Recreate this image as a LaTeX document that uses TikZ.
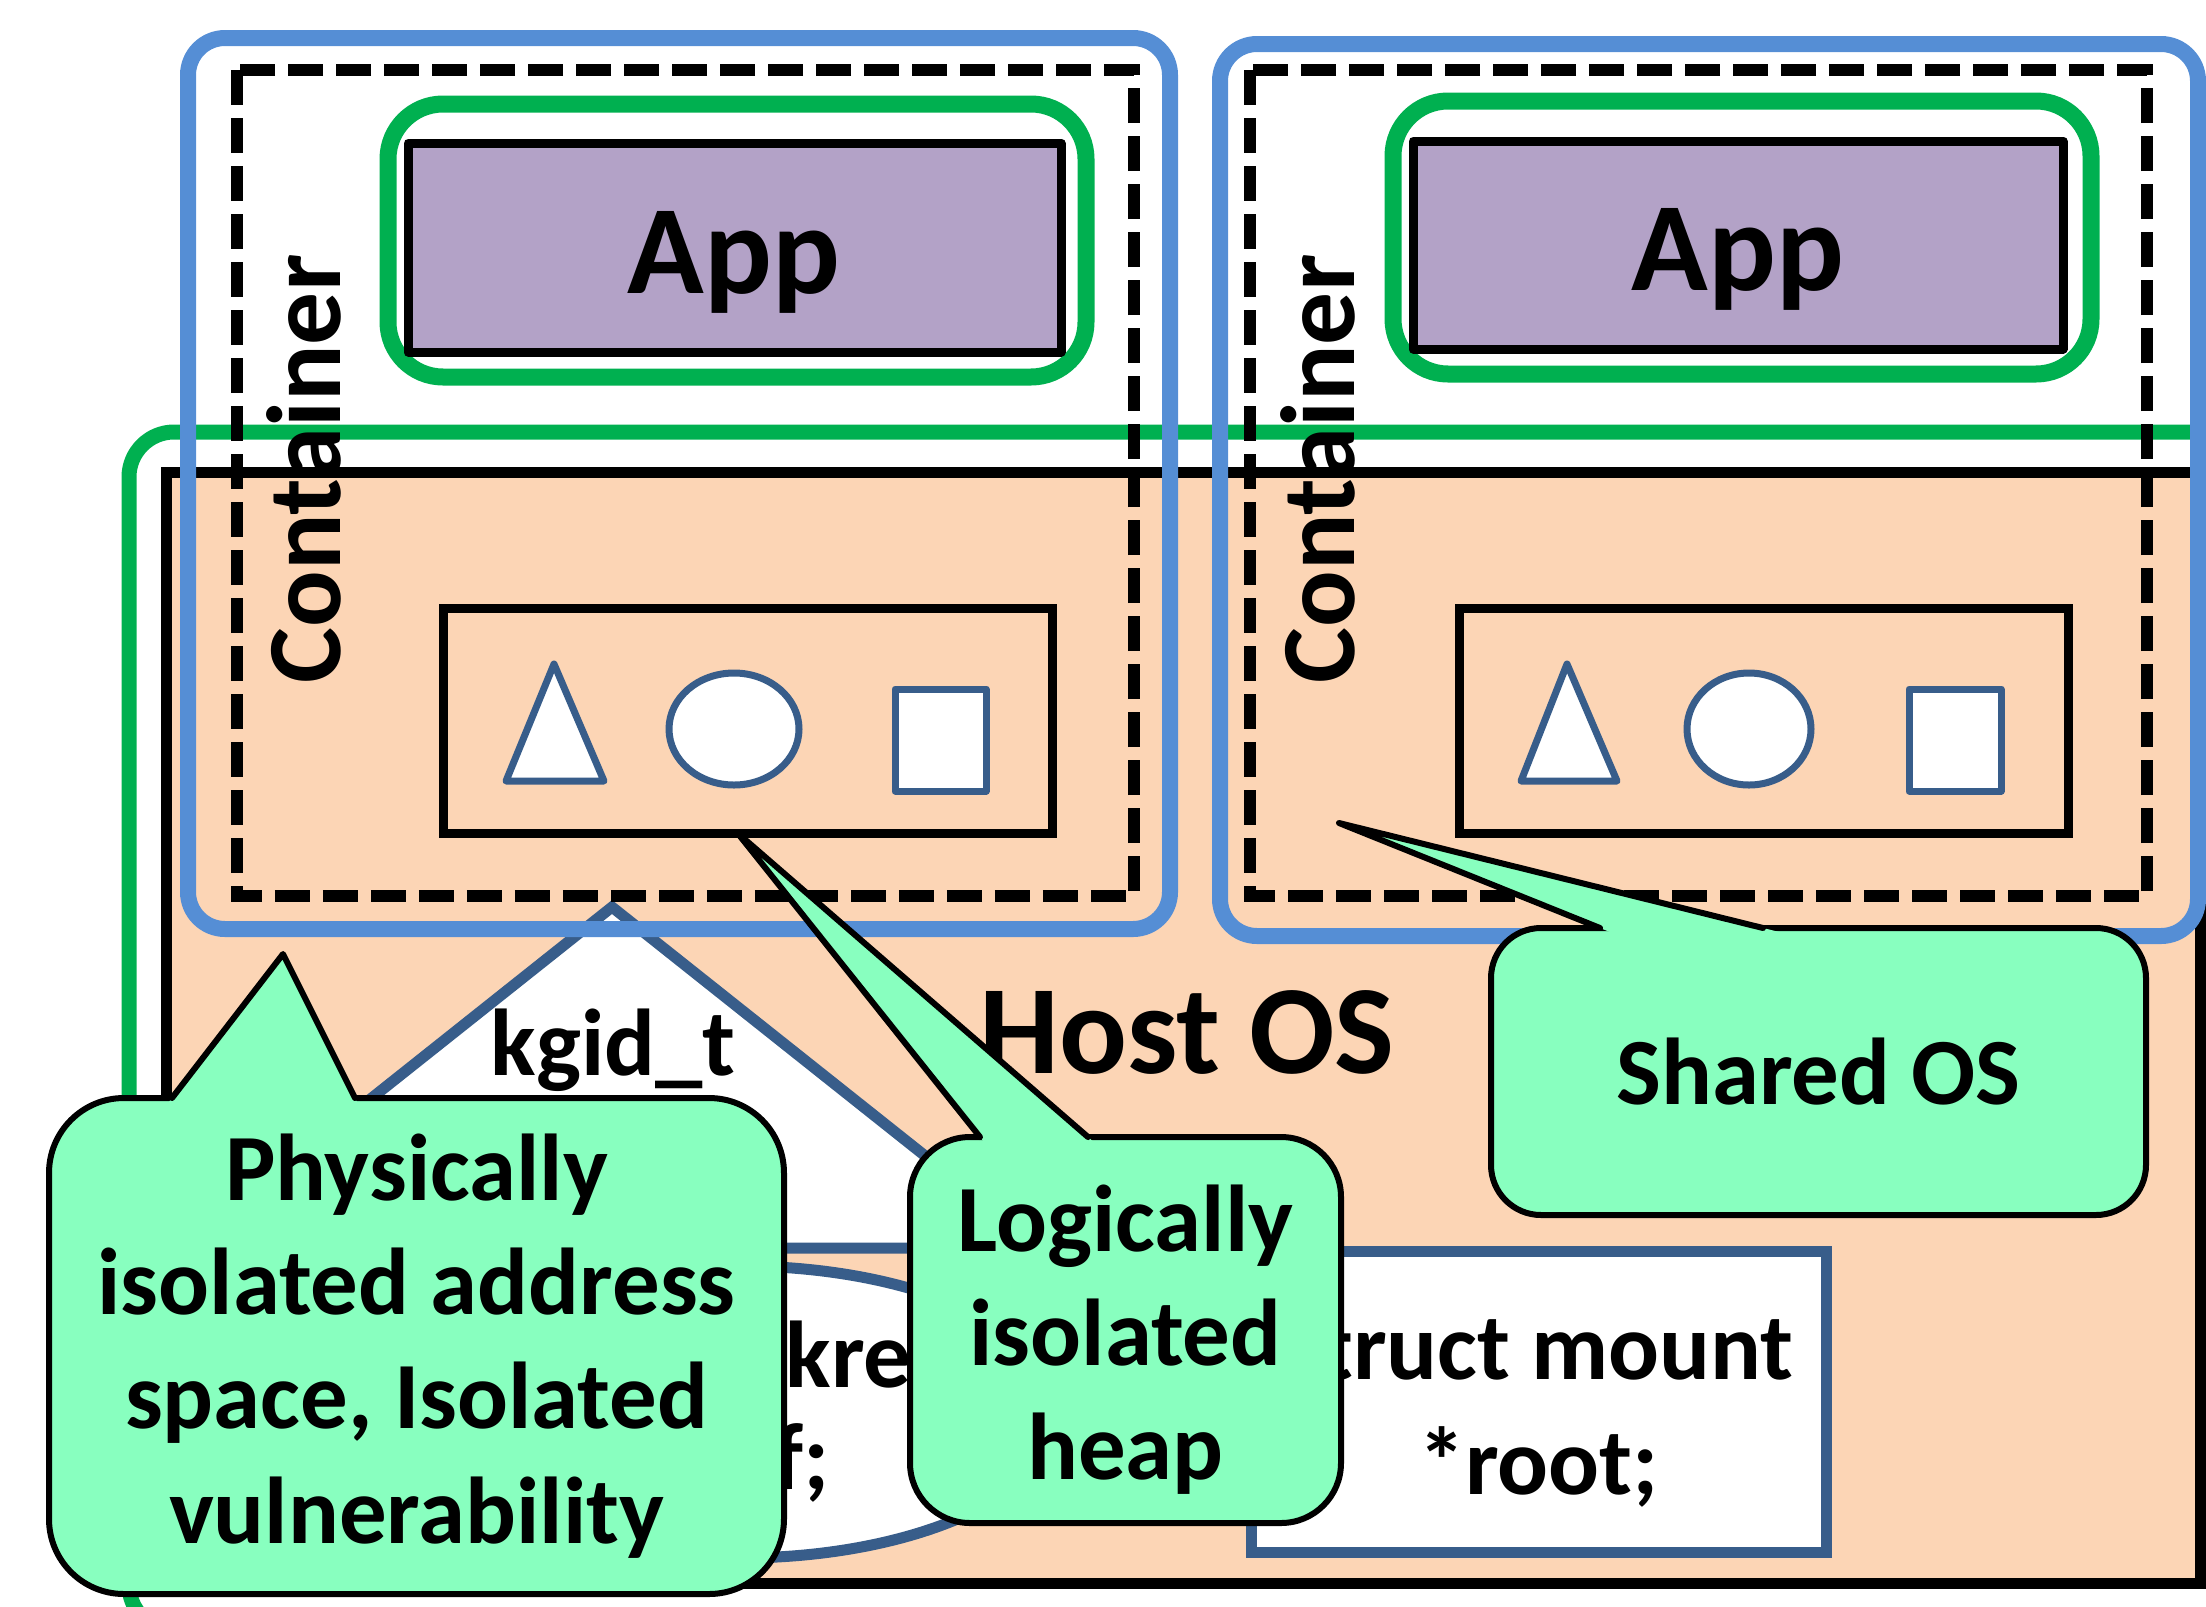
\documentclass[tikz,border=0pt]{standalone}
\usepackage{fontspec}
\setmainfont{Carlito}
\usetikzlibrary{shapes.geometric,calc}

\definecolor{hostgreen}{HTML}{00B050}
\definecolor{peach}{HTML}{FCD5B5}
\definecolor{appviolet}{HTML}{B3A2C7}
\definecolor{ctblue}{HTML}{558ED5}
\definecolor{objblue}{HTML}{385D8A}
\definecolor{mint}{HTML}{88FFBF}

\tikzset{
  txt/.style={font=\fontsize{27}{32.5}\selectfont\bfseries, align=center},
  bigtxt/.style={font=\fontsize{36}{43}\selectfont\bfseries},
  ctrtxt/.style={font=\fontsize{30}{36}\selectfont\bfseries, rotate=90, anchor=base},
  ctframe/.style={draw=ctblue, line width=1.6mm, rounded corners=3.7mm},
  nsframe/.style={draw, line width=1.2mm, dash pattern=on 3.5mm off 1.3mm},
  appring/.style={draw=hostgreen, line width=1.7mm, rounded corners=5.5mm},
  appbox/.style={draw, fill=appviolet, line width=0.9mm, line join=round},
  objbox/.style={draw, line width=0.9mm, inner sep=0, outer sep=0},
  obj/.style={draw=objblue, fill=white, line width=0.7mm, line join=round},
  datum/.style={draw=objblue, fill=white, line width=1.1mm, inner sep=0, outer sep=0, txt},
  bubble/.style={draw, fill=mint, line width=0.6mm, inner sep=0, outer sep=0, txt},
  tail/.style={draw, line width=0.6mm, line join=round, line cap=round}
}

\begin{document}
\begin{tikzpicture}[x=0.1mm, y=-0.1mm]
  \useasboundingbox (0,0) rectangle (2206,1606);
  \clip (0,0) rectangle (2206,1606);

  % host kernel
  \draw[hostgreen, line width=1.5mm, rounded corners=4.5mm] (129,432) rectangle (2260,1630);
  \draw[fill=peach, line width=1.1mm] (166,472) rectangle (2200,1583);

  % kernel objects seen by each container
  \node[objbox, minimum width=60.9mm, minimum height=22.5mm] (objL) at (747.5,720.5) {};
  \draw[obj] (554,664) -- (604,781) -- (506,781) -- cycle;
  \draw[obj] (734,729) ellipse [x radius=6.5mm, y radius=5.6mm];
  \draw[obj] (895,689) rectangle (986,791);

  \node[objbox, minimum width=60.9mm, minimum height=22.5mm] (objR) at (1763.5,720.5) {};
  \draw[obj] (1567,664) -- (1617,781) -- (1521,781) -- cycle;
  \draw[obj] (1749,729) ellipse [x radius=6.2mm, y radius=5.6mm];
  \draw[obj] (1909,689) rectangle (2001,791);

  % shared structures
  \draw[objblue, fill=white, line width=1.1mm] (612,907) -- (1041,1248) -- (183,1248) -- cycle;
  \node[txt, anchor=base] (kgid) at (613,1075) {kgid\_t};
  \node[datum, ellipse, minimum width=64.2mm, minimum height=29.2mm,
        font=\fontsize{27}{29}\selectfont\bfseries] (kref) at (739,1412) {struct kref\\kref;};
  \node[datum, minimum width=57.5mm, minimum height=30.1mm] (mount) at (1538.5,1401.5)
    {\rule{0pt}{8.4mm}struct mount\\*root;};
  \node[bigtxt, anchor=base] (hostos) at (1187,1073) {Host OS};

  % containers
  \draw[ctframe] (188,38) rectangle (1170,929);
  \draw[ctframe] (1220,44) rectangle (2198,936);
  \draw[nsframe] (237,70) rectangle (1134,896);
  \draw[nsframe] (1250,70) rectangle (2147,896);
  \draw[appring] (388,104) rectangle (1086,377);
  \draw[appring] (1393,101) rectangle (2091,374);
  \node[appbox, minimum width=65.3mm, minimum height=20.9mm] (appL) at (734.5,247.5) {};
  \node[appbox, minimum width=65mm, minimum height=20.8mm] (appR) at (1738,245) {};
  \node[bigtxt, anchor=base] (appLtxt) at (734,293) {App};
  \node[bigtxt, anchor=base] (appRtxt) at (1738,290) {App};
  \node[ctrtxt] (ctrL) at (340,469) {Container};
  \node[ctrtxt] (ctrR) at (1354,469) {Container};

  % callouts
  \node[bubble, minimum width=73.5mm, minimum height=49.6mm, rounded corners=7.5mm] (phys) at (416.5,1346)
    {Physically\\isolated address\\space, Isolated\\vulnerability};
  \coordinate (physTip) at (283,954);
  \coordinate (physA) at ($(phys.north west)+(123,0)$);
  \coordinate (physB) at ($(phys.north west)+(306,0)$);
  \fill[mint] ($(physTip)!1.06!(physA)$) -- (physTip) -- ($(physTip)!1.06!(physB)$) -- cycle;
  \draw[tail] (physA) -- (physTip) -- (physB);

  \node[bubble, minimum width=43.1mm, minimum height=38.6mm, rounded corners=6mm] (logic) at (1125.5,1330)
    {\rule{0pt}{8.6mm}Logically\\isolated\\heap};
  \coordinate (logicTip) at ($(objL.south)+(-10,0)$);
  \coordinate (logicA) at ($(logic.north west)+(70,0)$);
  \coordinate (logicB) at ($(logic.north west)+(178,0)$);
  \fill[mint] ($(logicTip)!1.06!(logicA)$) -- (logicTip) -- ($(logicTip)!1.06!(logicB)$) -- cycle;
  \draw[tail] (logicA) -- (logicTip) -- (logicB);

  \node[bubble, minimum width=65.5mm, minimum height=28.7mm, rounded corners=5mm] (shared) at (1818.5,1071.5)
    {Shared OS};
  \coordinate (sharedTip) at (1339,823);
  \coordinate (sharedA) at ($(shared.north west)+(109,0)$);
  \coordinate (sharedB) at ($(shared.north west)+(272,0)$);
  \fill[mint] ($(sharedTip)!1.06!(sharedA)$) -- (sharedTip) -- ($(sharedTip)!1.06!(sharedB)$) -- cycle;
  \draw[tail] (sharedA) -- (sharedTip) -- (sharedB);
\end{tikzpicture}
\end{document}
